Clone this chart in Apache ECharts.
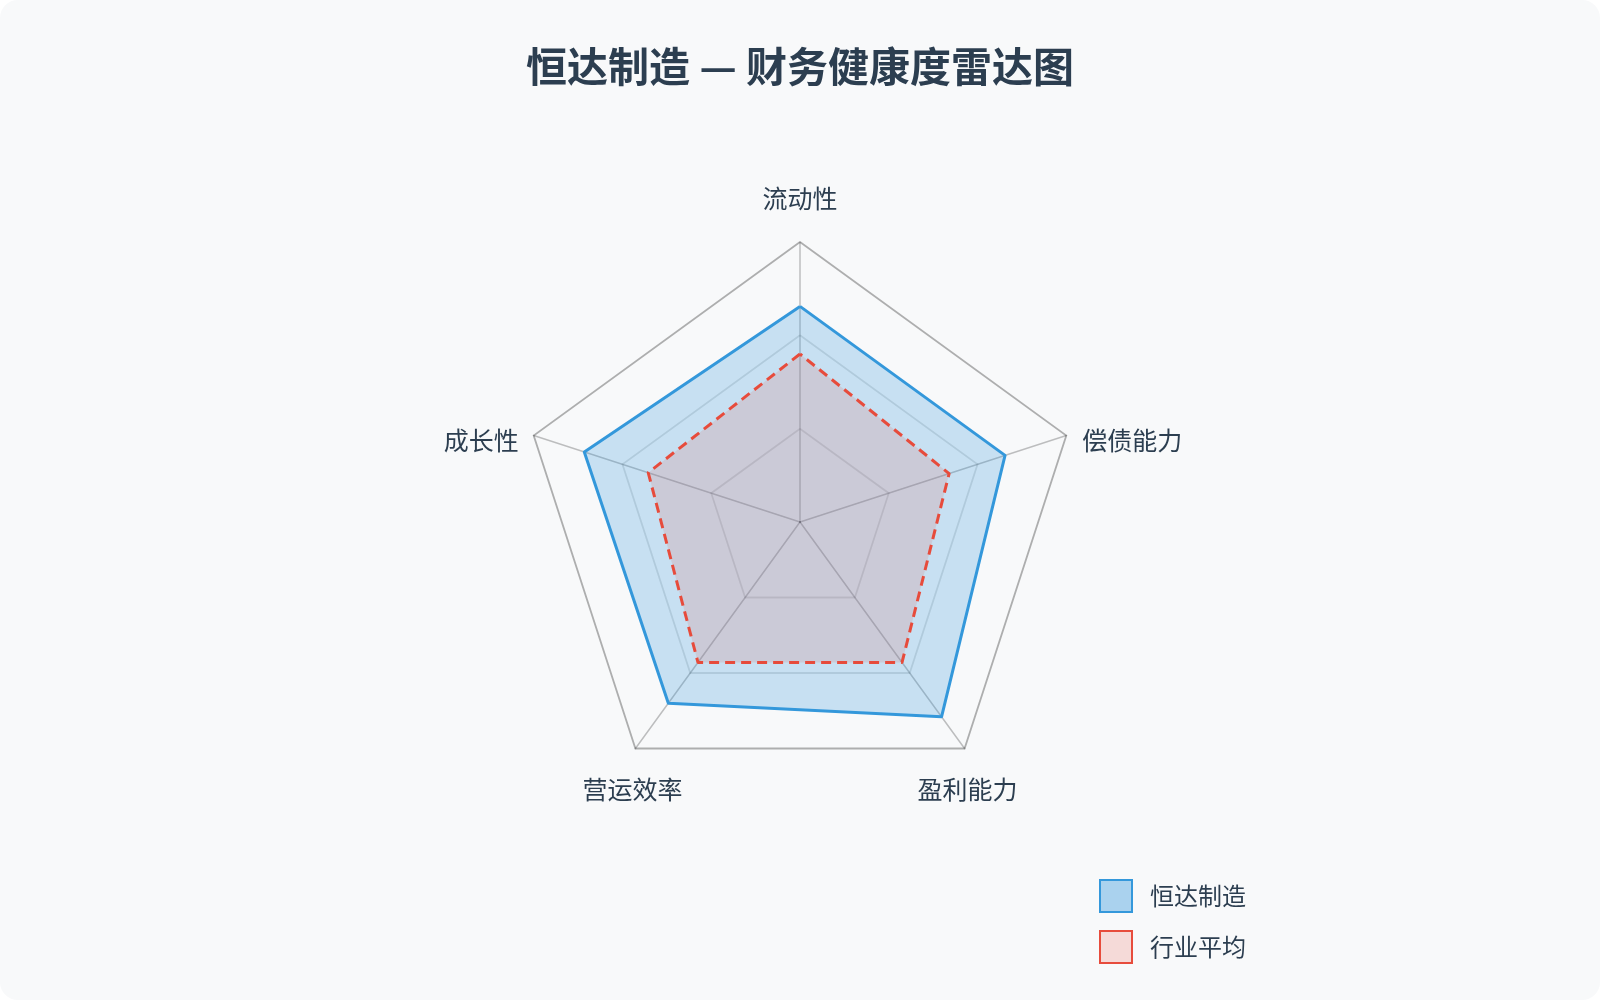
<!DOCTYPE html>
<html>
<head>
<meta charset="utf-8">
<script src="https://cdn.jsdelivr.net/npm/echarts@6/dist/echarts.min.js"></script>
<style>
  html, body { margin: 0; padding: 0; background: #ffffff; }
  #chart {
    width: 1600px; height: 1000px;
    background: #f8f9fa; border-radius: 18px; overflow: hidden;
  }
</style>
</head>
<body>
<div id="chart"></div>
<script>
// indicators listed counter-clockwise from the top, as ECharts places them
const indicators = ['流动性', '成长性', '营运效率', '盈利能力', '偿债能力'];
const maxValue = 100;
const companyName = '恒达制造';
const companyValues = [77, 81, 80, 86, 77];
const industryName = '行业平均';
const industryValues = [60, 57, 62, 62, 56];

const chart = echarts.init(document.getElementById('chart'));
const textColor = '#2c3e50';
const font = '"Noto Sans CJK SC", "Noto Sans", sans-serif';

// nudge each axis name towards where the reference puts it
const namePad = [
    [0, 0, 111, 0],   // top
    [0, 91, 40, 0],   // upper left
    [212, 0, 0, 0],   // lower left
    [212, 0, 0, 0],   // lower right
    [0, 0, 40, 92]    // upper right
];
const rich = {};
indicators.forEach((n, i) => {
    rich['p' + i] = { color: textColor, fontSize: 25, fontFamily: font, padding: namePad[i] };
});

const option = {
    backgroundColor: 'transparent',
    title: {
        text: '恒达制造 — 财务健康度雷达图',
        left: 'center',
        top: 41,
        textStyle: {
            color: textColor,
            fontSize: 41,
            fontWeight: 'bold',
            fontFamily: font
        }
    },
    legend: {
        orient: 'vertical',
        left: 1094,
        top: 874,
        icon: 'rect',
        itemWidth: 32,
        itemHeight: 32,
        itemGap: 17,
        textStyle: { color: textColor, fontSize: 24, fontFamily: font, padding: [0, 0, 0, 13] },
        data: [
            { name: companyName, itemStyle: { color: 'rgba(52,152,219,0.4)', borderColor: '#3498db', borderWidth: 2 } },
            { name: industryName, itemStyle: { color: 'rgba(231,76,60,0.18)', borderColor: '#e74c3c', borderWidth: 2 } }
        ]
    },
    radar: {
        center: [800, 522],
        radius: 280,
        shape: 'polygon',
        splitNumber: 3,
        indicator: indicators.map(n => ({ name: n, max: maxValue })),
        nameGap: -80,
        axisName: {
            formatter: function(name) {
                return '{p' + indicators.indexOf(name) + '|' + name + '}';
            },
            rich: rich
        },
        axisLine: { lineStyle: { color: 'rgba(0,0,0,0.24)', width: 1.5 } },
        splitLine: {
            lineStyle: {
                color: ['rgba(0,0,0,0.12)', 'rgba(0,0,0,0.12)', 'rgba(0,0,0,0.12)', 'rgba(0,0,0,0.3)'],
                width: 1.8
            }
        },
        splitArea: { show: false }
    },
    series: [{
        type: 'radar',
        symbol: 'none',
        data: [
            {
                name: companyName,
                value: companyValues,
                lineStyle: { color: '#3498db', width: 3 },
                itemStyle: { color: '#3498db' },
                areaStyle: { color: 'rgba(52,152,219,0.25)', opacity: 1 }
            },
            {
                name: industryName,
                value: industryValues,
                lineStyle: { color: '#e74c3c', width: 3, type: [10, 6] },
                itemStyle: { color: '#e74c3c' },
                areaStyle: { color: 'rgba(231,76,60,0.15)', opacity: 1 }
            }
        ]
    }]
};
chart.setOption(option);
</script>
</body>
</html>
